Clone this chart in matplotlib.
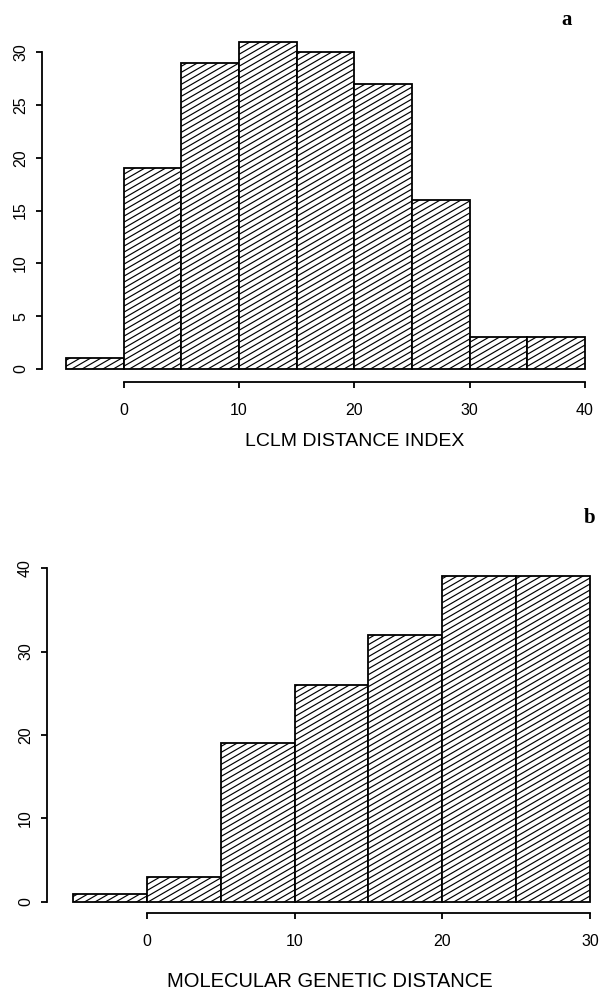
import matplotlib.pyplot as plt
import numpy as np
from matplotlib.collections import LineCollection
from matplotlib.transforms import IdentityTransform

# data
a_edges = [-5, 0, 5, 10, 15, 20, 25, 30, 35, 40]
a_counts = [1, 19, 29, 31, 30, 27, 16, 3, 3]
a_yticks = [0, 5, 10, 15, 20, 25, 30]
a_xticks = [0, 10, 20, 30, 40]

b_edges = [-5, 0, 5, 10, 15, 20, 25, 30]
b_counts = [1, 3, 19, 26, 32, 39, 39]
b_yticks = [0, 10, 20, 30, 40]
b_xticks = [0, 10, 20, 30]

W, H = 599, 997
plt.rcParams['font.family'] = ['Liberation Sans', 'DejaVu Sans']
fig = plt.figure(figsize=(W / 100, H / 100), dpi=100)


def make_axes(l, t, r, b):
    # pixel box (from top-left) -> figure fraction
    return fig.add_axes([l / W, (H - b) / H, (r - l) / W, (b - t) / H])


def hatch_bar(ax, rect, spacing=6.0, angle=30):
    # slanted lines in pixel space, clipped to the bar
    x0, y0 = ax.transData.transform((rect.get_x(), rect.get_y()))
    x1, y1 = ax.transData.transform((rect.get_x() + rect.get_width(),
                                     rect.get_y() + rect.get_height()))
    s = np.tan(np.radians(angle))
    segs = []
    c = y0 - s * (x1 - x0) - spacing
    while c < y1 + spacing:
        segs.append([(x0, c), (x1, c + s * (x1 - x0))])
        c += spacing
    lc = LineCollection(segs, colors='black', linewidths=0.85,
                        transform=IdentityTransform())
    ax.add_collection(lc)
    lc.set_clip_path(rect)


def hist_panel(ax, edges, counts, xlim, ylim, xticks, yticks):
    ax.set_xlim(*xlim)
    ax.set_ylim(*ylim)
    widths = np.diff(edges)
    bars = ax.bar(edges[:-1], counts, width=widths, align='edge',
                  color='white', edgecolor='black', linewidth=1.3)
    for r in bars:
        hatch_bar(ax, r)
    for sp in ['top', 'right']:
        ax.spines[sp].set_visible(False)
    ax.spines['left'].set_bounds(yticks[0], yticks[-1])
    ax.spines['bottom'].set_bounds(xticks[0], xticks[-1])
    ax.spines['left'].set_linewidth(1.3)
    ax.spines['bottom'].set_linewidth(1.3)
    ax.set_xticks(xticks)
    ax.set_yticks(yticks)
    ax.tick_params(axis='both', direction='out', length=4, width=1.3,
                   labelsize=11.5, color='black')
    ax.tick_params(axis='y', pad=6)
    ax.tick_params(axis='x', pad=11)
    for lab in ax.get_yticklabels():
        lab.set_rotation(90)
        lab.set_va('center')


ax1 = make_axes(42, 30, 597, 382)
hist_panel(ax1, a_edges, a_counts, (-7.08, 41.04), (-1.23, 32.1),
           a_xticks, a_yticks)

ax2 = make_axes(47, 548, 598, 913)
hist_panel(ax2, b_edges, b_counts, (-6.76, 30.54), (-1.32, 42.4),
           b_xticks, b_yticks)

fig.text(355 / W, 1 - 442 / H, 'LCLM DISTANCE INDEX', fontsize=14,
         ha='center', va='center')
fig.text(330 / W, 1 - 981 / H, 'MOLECULAR GENETIC DISTANCE', fontsize=14.5,
         ha='center', va='center')
fig.text(567 / W, 1 - 20 / H, 'a', fontsize=15, fontweight='bold',
         family='Liberation Serif', ha='center', va='center')
fig.text(590 / W, 1 - 518 / H, 'b', fontsize=15, fontweight='bold',
         family='Liberation Serif', ha='center', va='center')

fig.savefig('out.png', dpi=100)
